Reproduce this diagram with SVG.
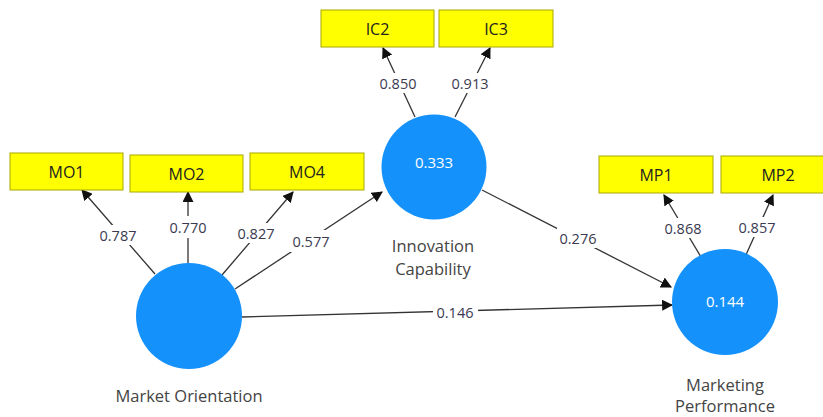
<svg xmlns="http://www.w3.org/2000/svg" width="823" height="417" viewBox="0 0 823 417">
<defs>
<marker id="ah" viewBox="0 0 10 10" refX="9" refY="5" markerWidth="11" markerHeight="11" markerUnits="userSpaceOnUse" orient="auto">
<path d="M0,0 L10,5 L0,10 z" fill="#111"/>
</marker>
<style>
.lv{fill:#1591fb}
.ind{fill:#ffff00;stroke:#a8a800;stroke-width:1}
.it{font-family:"Open Sans","Noto Sans",sans-serif;font-size:16px;fill:#222;text-anchor:middle;dominant-baseline:central}
.cl{font-family:"Open Sans","Noto Sans",sans-serif;font-size:16.5px;fill:#444;text-anchor:middle;dominant-baseline:central}
.val{font-family:"Open Sans","Noto Sans",sans-serif;font-size:15px;fill:#fff;text-anchor:middle;dominant-baseline:central}
.el{stroke:#333;stroke-width:1.3;fill:none;marker-end:url(#ah)}
.bg{fill:#fff}
.lb{font-family:"Open Sans","Noto Sans",sans-serif;font-size:14.5px;fill:#3a3a50;text-anchor:middle;dominant-baseline:central}
</style>
</defs>
<rect width="823" height="417" fill="#fff"/>
<g id="connectors">
<line class="el" x1="155" y1="274" x2="82" y2="190"/>
<line class="el" x1="188" y1="263" x2="188" y2="192"/>
<line class="el" x1="222" y1="275" x2="293" y2="192"/>
<line class="el" x1="235" y1="289" x2="382" y2="192"/>
<line class="el" x1="415" y1="117" x2="383" y2="48"/>
<line class="el" x1="455" y1="117" x2="490" y2="48"/>
<line class="el" x1="482" y1="190" x2="671" y2="287"/>
<line class="el" x1="242" y1="317" x2="672" y2="305"/>
<line class="el" x1="701" y1="257" x2="664" y2="195"/>
<line class="el" x1="745" y1="257" x2="773" y2="195"/>
<rect class="bg" x="98" y="225" width="40" height="20"/>
<text class="lb" x="118" y="235">0.787</text>
<rect class="bg" x="168" y="216" width="40" height="22"/>
<text class="lb" x="188" y="227">0.770</text>
<rect class="bg" x="236" y="223" width="40" height="20"/>
<text class="lb" x="256" y="233">0.827</text>
<rect class="bg" x="290" y="230" width="42" height="22"/>
<text class="lb" x="311" y="241">0.577</text>
<rect class="bg" x="378" y="73" width="40" height="20"/>
<text class="lb" x="398" y="83">0.850</text>
<rect class="bg" x="450" y="73" width="40" height="20"/>
<text class="lb" x="470" y="83">0.913</text>
<rect class="bg" x="557" y="228" width="42" height="20"/>
<text class="lb" x="578" y="238">0.276</text>
<rect class="bg" x="433" y="302" width="45" height="20"/>
<text class="lb" x="455" y="312">0.146</text>
<rect class="bg" x="663" y="218" width="40" height="20"/>
<text class="lb" x="683" y="228">0.868</text>
<rect class="bg" x="737" y="217" width="40" height="20"/>
<text class="lb" x="757" y="227">0.857</text>
</g>
<g id="MO">
<circle class="lv" cx="189" cy="316" r="53"/>
<text class="cl" x="189" y="395">Market Orientation</text>
</g>
<g id="IC">
<circle class="lv" cx="434" cy="167" r="52.5"/>
<text class="val" x="434" y="162">0.333</text>
<text class="cl" x="433" y="245">Innovation</text>
<text class="cl" x="433" y="268">Capability</text>
</g>
<g id="MP">
<circle class="lv" cx="725" cy="302" r="53"/>
<text class="val" x="725" y="301">0.144</text>
<text class="cl" x="725" y="384">Marketing</text>
<text class="cl" x="725" y="405">Performance</text>
</g>
<g id="MO1"><rect class="ind" x="10" y="153" width="113" height="37"/><text class="it" x="66.5" y="171.5">MO1</text></g>
<g id="MO2"><rect class="ind" x="130" y="155" width="113" height="37"/><text class="it" x="186.5" y="173.5">MO2</text></g>
<g id="MO4"><rect class="ind" x="250" y="153" width="114" height="37"/><text class="it" x="307" y="171.5">MO4</text></g>
<g id="IC2"><rect class="ind" x="321" y="10" width="113" height="37"/><text class="it" x="377.5" y="28.5">IC2</text></g>
<g id="IC3"><rect class="ind" x="439" y="10" width="114" height="37"/><text class="it" x="496" y="28.5">IC3</text></g>
<g id="MP1"><rect class="ind" x="599" y="156" width="114" height="37"/><text class="it" x="656" y="174.5">MP1</text></g>
<g id="MP2"><rect class="ind" x="721" y="156" width="114" height="37"/><text class="it" x="778" y="174.5">MP2</text></g>
</svg>
